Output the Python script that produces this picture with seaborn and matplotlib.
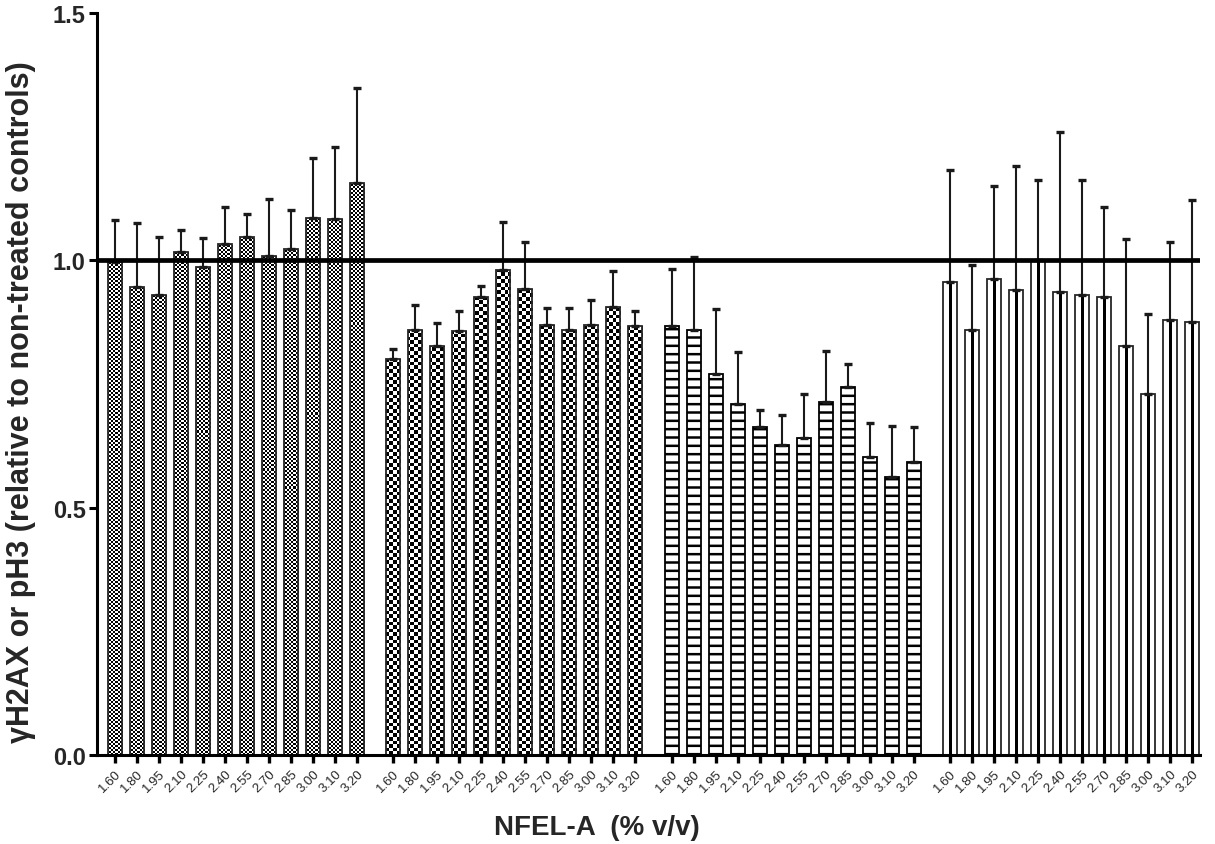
import numpy as np
import pandas as pd
import matplotlib
matplotlib.use("Agg")
import matplotlib.pyplot as plt
import seaborn as sns

# ---------------- data ----------------
concentrations = ["1.60", "1.80", "1.95", "2.10", "2.25", "2.40",
                  "2.55", "2.70", "2.85", "3.00", "3.10", "3.20"]

group1_mean = [0.997, 0.946, 0.929, 1.017, 0.987, 1.033, 1.047, 1.009, 1.023, 1.086, 1.083, 1.157]
group1_upper = [1.081, 1.076, 1.047, 1.062, 1.045, 1.107, 1.094, 1.124, 1.101, 1.207, 1.230, 1.349]

group2_mean = [0.800, 0.860, 0.827, 0.857, 0.926, 0.980, 0.943, 0.870, 0.860, 0.870, 0.906, 0.867]
group2_upper = [0.820, 0.910, 0.873, 0.898, 0.948, 1.077, 1.038, 0.904, 0.904, 0.920, 0.978, 0.898]

group3_mean = [0.867, 0.860, 0.770, 0.710, 0.664, 0.627, 0.640, 0.714, 0.744, 0.603, 0.563, 0.593]
group3_upper = [0.983, 1.007, 0.901, 0.814, 0.698, 0.688, 0.730, 0.817, 0.791, 0.672, 0.665, 0.664]

group4_mean = [0.956, 0.859, 0.962, 0.940, 1.000, 0.936, 0.929, 0.926, 0.827, 0.730, 0.880, 0.876]
group4_upper = [1.182, 0.990, 1.151, 1.190, 1.163, 1.260, 1.163, 1.107, 1.043, 0.892, 1.038, 1.122]

y_ticks = [0.0, 0.5, 1.0, 1.5]
y_tick_labels = ["0.0", "0.5", "1.0", "1.5"]
x_label = "NFEL-A  (% v/v)"
y_label = "γH2AX or pH3 (relative to non-treated controls)"
reference_level = 1.0

# ---------------- build table ----------------
means = [group1_mean, group2_mean, group3_mean, group4_mean]
uppers = [group1_upper, group2_upper, group3_upper, group4_upper]
GAP = 0.65
rows = []
for g, (m, u) in enumerate(zip(means, uppers)):
    for i, (mv, uv) in enumerate(zip(m, u)):
        rows.append({"group": g, "conc": concentrations[i],
                     "pos": g * (len(concentrations) + GAP) + i,
                     "mean": mv, "upper": uv})
df = pd.DataFrame(rows)

# ---------------- style ----------------
sns.set_style("ticks")
plt.rcParams["font.family"] = ["Liberation Sans", "DejaVu Sans"]
plt.rcParams["hatch.linewidth"] = 1.8
plt.rcParams["hatch.color"] = "black"

fig = plt.figure(figsize=(12.15, 8.45), dpi=100)
ax = fig.add_axes([0.0798, 0.1053, 0.9079, 0.8781])

sns.barplot(data=df, x="pos", y="mean", native_scale=True, width=0.64,
            color="white", edgecolor="#262626", linewidth=1.3,
            errorbar=None, ax=ax)

xlim = (-0.82, df["pos"].max() + 0.37)
ylim = (0.0, 1.5)
ax.set_xlim(*xlim)
ax.set_ylim(*ylim)

patches = list(ax.patches)
W_px = 0.9079 * 1215
H_px = 0.8781 * 845


def checker(sq):
    nr = int(round(H_px / sq))
    nc = int(round(W_px / sq))
    r = np.arange(nr)[:, None]
    c = np.arange(nc)[None, :]
    return ((r + c) % 2).astype(float)


chk_fine = checker(2.0)
chk_coarse = checker(3.6)
stripe = np.array([[0, 0, 0, 1, 0, 0, 0]], dtype=float)

for idx, p in enumerate(patches):
    g = df["group"].iloc[idx]
    if g in (0, 1):
        p.set_facecolor("none")
        img = chk_fine if g == 0 else chk_coarse
        im = ax.imshow(img, extent=(xlim[0], xlim[1], ylim[0], ylim[1]),
                       origin="lower", cmap="gray_r", vmin=0, vmax=1,
                       interpolation="nearest", aspect="auto", zorder=0.6)
        im.set_clip_path(p)
    elif g == 2:
        p.set_hatch("--")
        p.set_edgecolor("black")
    else:
        p.set_facecolor("none")
        x0 = p.get_x()
        w = p.get_width()
        h = p.get_height()
        ax.imshow(stripe, extent=(x0, x0 + w, 0, h), origin="lower",
                  cmap="gray_r", vmin=0, vmax=1, interpolation="nearest",
                  aspect="auto", zorder=0.6)

ax.set_xlim(*xlim)
ax.set_ylim(*ylim)

# error bars (upper only)
err = df["upper"] - df["mean"]
ax.errorbar(df["pos"], df["mean"], yerr=[np.zeros(len(df)), err],
            fmt="none", ecolor="#1a1a1a", elinewidth=1.5, capsize=2.6,
            capthick=2.4, zorder=2)

ax.axhline(reference_level, color="black", linewidth=3.4, zorder=3)

# axes cosmetics
sns.despine(ax=ax)
for side in ("left", "bottom"):
    ax.spines[side].set_linewidth(2.2)
    ax.spines[side].set_color("black")

ax.set_yticks(y_ticks)
ax.set_yticklabels(y_tick_labels, fontsize=17, fontweight="bold")
ax.set_xticks(df["pos"])
ax.set_xticklabels(df["conc"], rotation=45, ha="right",
                   rotation_mode="anchor", fontsize=9.5)
ax.tick_params(axis="x", length=6, width=2.4, color="black", pad=3)
ax.tick_params(axis="y", length=6, width=2.2, color="black", pad=2)

ax.set_xlabel(x_label, fontsize=20, fontweight="bold")
ax.set_ylabel(y_label, fontsize=22, fontweight="bold")
ax.xaxis.set_label_coords(0.453, -0.080)
ax.yaxis.set_label_coords(-0.055, 0.477)

fig.savefig("out.png", dpi=100)
